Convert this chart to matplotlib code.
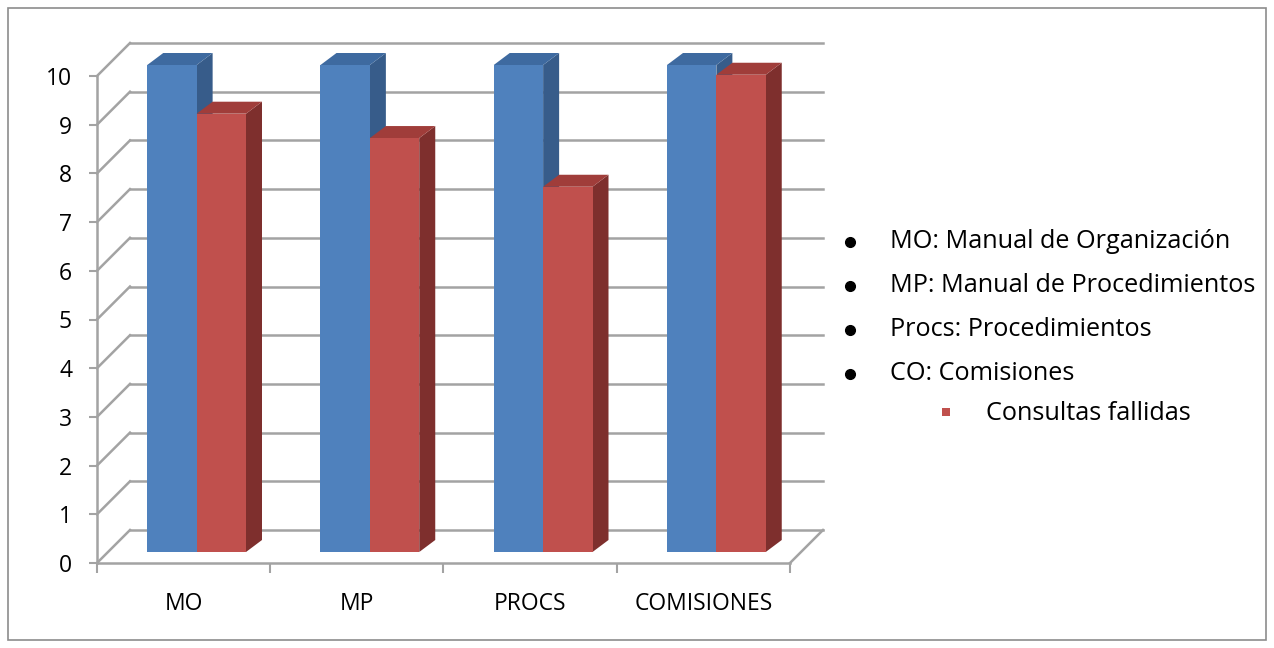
import matplotlib
matplotlib.use("Agg")
import matplotlib.pyplot as plt
from matplotlib.patches import Polygon, Rectangle
from matplotlib.lines import Line2D
import numpy as np

plt.rcParams["font.family"] = ["Open Sans", "DejaVu Sans"]

categories = ["MO", "MP", "PROCS", "COMISIONES"]
total_values = [10, 10, 10, 10]
failed_values = [9.0, 8.5, 7.5, 9.8]
y_ticks = list(range(0, 11))
legend_lines = [
    "MO: Manual de Organización",
    "MP: Manual de Procedimientos",
    "Procs: Procedimientos",
    "CO: Comisiones",
]
series_label = "Consultas fallidas"

BLUE = {"front": "#4F81BD", "side": "#375C8A", "top": "#3E6AA0"}
RED = {"front": "#C0504D", "side": "#7E2F2D", "top": "#A03D3A"}
GRID = "#A3A3A3"

W, H, DPI = 1274, 648, 100
fig = plt.figure(figsize=(W / DPI, H / DPI), dpi=DPI)

# front plane of the plot area (pixels)
left, right, bottom, top = 97, 790, 563, 76
ax = fig.add_axes([left / W, 1 - bottom / H, (right - left) / W, (bottom - top) / H])
n = len(categories)
ax.set_xlim(0, n)
ax.set_ylim(0, 10)
ax.patch.set_alpha(0)

# oblique depth vectors in pixels (x right, y up)
WALL = np.array([33.0, 33.0])
BAR_FRONT = np.array([13.0, 11.0])
BAR_BACK = np.array([29.0, 23.0])


def shift(x, y, vec):
    """Move a data point by a pixel vector, returning data coords."""
    px = ax.transData.transform((x, y)) + vec
    return tuple(ax.transData.inverted().transform(px))


fig.canvas.draw()

# back wall gridlines and left wall diagonals
for v in y_ticks:
    b0 = shift(0, v, WALL)
    b1 = shift(n, v, WALL)
    ax.plot([b0[0], b1[0]], [b0[1], b1[1]], color=GRID, lw=1.8, zorder=1, clip_on=False)
    ax.plot([0, b0[0]], [v, b0[1]], color=GRID, lw=1.8, zorder=1, clip_on=False)
# floor right edge
fr = shift(n, 0, WALL)
ax.plot([n, fr[0]], [0, fr[1]], color=GRID, lw=1.8, zorder=1, clip_on=False)

bar_w = 0.285


def draw_box(x0, x1, h, colors, z):
    f = [shift(x0, 0, BAR_FRONT), shift(x1, 0, BAR_FRONT),
         shift(x1, h, BAR_FRONT), shift(x0, h, BAR_FRONT)]
    b = [shift(x0, 0, BAR_BACK), shift(x1, 0, BAR_BACK),
         shift(x1, h, BAR_BACK), shift(x0, h, BAR_BACK)]
    side = [f[1], b[1], b[2], f[2]]
    topf = [f[3], f[2], b[2], b[3]]
    for pts, key in ((side, "side"), (topf, "top"), (f, "front")):
        ax.add_patch(Polygon(pts, closed=True, facecolor=colors[key],
                             edgecolor="none", zorder=z, clip_on=False))


for i in range(n):
    c = i + 0.5
    draw_box(c - bar_w, c, total_values[i], BLUE, 3 + i * 2)
    draw_box(c, c + bar_w, failed_values[i], RED, 4 + i * 2)

# axes styling
for s in ("top", "right"):
    ax.spines[s].set_visible(False)
for s in ("left", "bottom"):
    ax.spines[s].set_color(GRID)
    ax.spines[s].set_linewidth(1.8)
    ax.spines[s].set_zorder(2)
ax.set_yticks(y_ticks)
ax.tick_params(axis="y", direction="out", length=6, width=1.5, color=GRID,
               labelsize=16.5, labelcolor="black", pad=12)
ax.set_xticks(range(n + 1))
ax.set_xticklabels([])
ax.set_xticks([i + 0.5 for i in range(n)], minor=True)
ax.set_xticklabels(categories, minor=True)
ax.tick_params(axis="x", which="major", direction="out", length=7, width=1.5, color=GRID)
ax.tick_params(axis="x", which="minor", length=0, labelsize=16.5, pad=21)

# descriptive list at the right
ys = [242, 286, 330, 374]
for yy, txt in zip(ys, legend_lines):
    fig.add_artist(Line2D([850 / W], [1 - yy / H], marker="o", markersize=7,
                          color="black", transform=fig.transFigure))
    fig.text(890 / W, 1 - yy / H, txt, fontsize=18.2, ha="left", va="center", color="black")
fig.patches.append(Rectangle((942 / W, 1 - 416 / H), 8 / W, 8 / H,
                             transform=fig.transFigure, facecolor=RED["front"],
                             edgecolor="none"))
fig.text(986 / W, 1 - 414 / H, series_label, fontsize=18.2, ha="left", va="center", color="black")

# chart border
fig.patches.append(Rectangle((8 / W, 8 / H), 1258 / W, 632 / H, transform=fig.transFigure,
                             facecolor="none", edgecolor="#8C8C8C", lw=1.2))

fig.savefig("out.png", dpi=DPI)
